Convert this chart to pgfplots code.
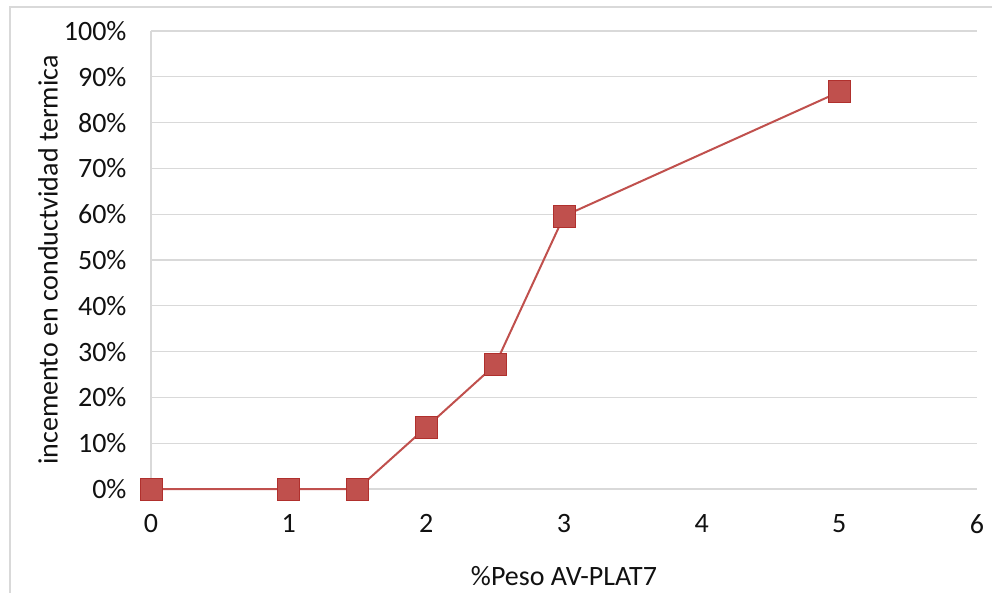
\documentclass[border=0pt]{standalone}
\usepackage{fontspec}
\setmainfont{Carlito}
\usepackage{pgfplots}
\pgfplotsset{compat=1.18}
\definecolor{serie}{HTML}{C0504D}
\definecolor{serieborde}{HTML}{B0302D}
\definecolor{rejilla}{HTML}{D9D9D9}
\definecolor{texto}{HTML}{111111}
\begin{document}
\fontsize{28}{33}\selectfont
\begin{tikzpicture}[x=1pt,y=1pt]
\useasboundingbox (0,0) rectangle (992,592);
\draw[rejilla, line width=1.5pt] (10,-10) -- (10,585) -- (1010,585);
\begin{axis}[
  at={(151pt,103pt)}, anchor=south west,
  scale only axis, width=826pt, height=458pt,
  xmin=0, xmax=6, ymin=0, ymax=100,
  xtick={0,1,...,6}, ytick={0,10,...,100},
  yticklabel={\pgfmathprintnumber{\tick}\%},
  /pgf/number format/assume math mode=true,
  axis lines*=left,
  axis line style={rejilla, line width=1.2pt},
  ymajorgrids, grid style={rejilla, line width=1.2pt},
  major tick length=0pt,
  tick label style={font=\fontsize{28}{33}\selectfont, text=texto},
  yticklabel style={xshift=-15pt},
  xticklabel style={yshift=-16pt},
  label style={font=\fontsize{28}{33}\selectfont, text=texto},
  xlabel={\%Peso AV-PLAT7},
  ylabel={incemento en conductvidad termica},
  xlabel style={at={(axis description cs:0.5,-0.19)}, anchor=center, inner sep=1pt},
  ylabel style={at={(axis description cs:-0.1247,0.5)}, anchor=center, rotate=0},
  clip=false,
]
\addplot[serie, line width=2pt, mark=square*,
  mark size=11pt, mark options={fill=serie, draw=serieborde, line width=1pt}]
  coordinates {(0,0) (1,0) (1.5,0) (2,13.5) (2.5,27.1) (3,59.6) (5,86.7)};
\end{axis}
\end{tikzpicture}
\end{document}
